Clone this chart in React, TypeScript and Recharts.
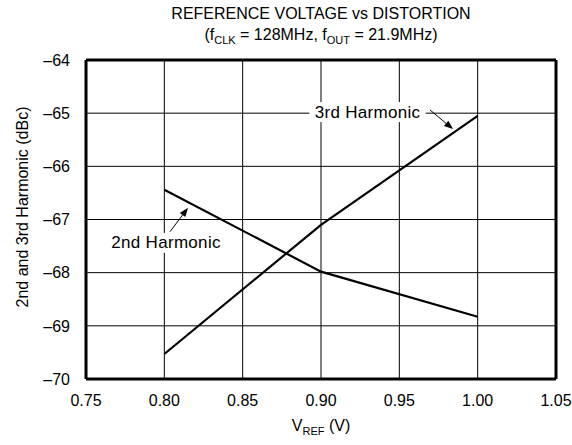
import React from "react";
import {
  LineChart,
  Line,
  XAxis,
  YAxis,
  CartesianGrid,
  ReferenceLine,
  ReferenceDot,
} from "recharts";

// data
const vref = [0.8, 0.9, 1.0];
const second = [-66.44, -67.98, -68.83];
const third = [-69.53, -67.1, -65.05];

const xTicks = [0.75, 0.8, 0.85, 0.9, 0.95, 1.0, 1.05];
const yTicks = [-70, -69, -68, -67, -66, -65, -64];

// callouts: label centre and arrow (from -> to), in data units
const callouts = [
  { text: "3rd Harmonic", x: 0.9297, y: -64.98, from: [0.9696, -64.94], to: [0.9843, -65.3] },
  { text: "2nd Harmonic", x: 0.8011, y: -67.44, from: [0.8036, -67.23], to: [0.8151, -66.78] },
];

const data = vref.map((v, i) => ({ v, second: second[i], third: third[i] }));

const FONT = "'Liberation Sans', Arial, Helvetica, sans-serif";
const fmt = (n: number) => (n < 0 ? "\u2013" + Math.abs(n) : String(n));

function Arrow(props: any) {
  const { x1, y1, x2, y2 } = props;
  const a = Math.atan2(y2 - y1, x2 - x1);
  const len = 9;
  const w = 3.5;
  const bx = x2 - len * Math.cos(a);
  const by = y2 - len * Math.sin(a);
  const px = -Math.sin(a) * w;
  const py = Math.cos(a) * w;
  return (
    <g>
      <line x1={x1} y1={y1} x2={bx} y2={by} stroke="#000" strokeWidth={1} />
      <polygon points={`${x2},${y2} ${bx + px},${by + py} ${bx - px},${by - py}`} fill="#000" />
    </g>
  );
}

function CalloutLabel({ viewBox, text }: any) {
  const cx = viewBox.x + (viewBox.width || 0) / 2;
  const cy = viewBox.y + (viewBox.height || 0) / 2;
  const w = text.length * 9.2;
  return (
    <g>
      <rect x={cx - w / 2 - 3} y={cy - 10} width={w + 6} height={20} fill="#fff" />
      <text
        x={cx}
        y={cy}
        textAnchor="middle"
        dominantBaseline="central"
        fontSize={17}
        letterSpacing={0.3}
        fontFamily={FONT}
        fill="#000"
      >
        {text}
      </text>
    </g>
  );
}

function YLabel() {
  return (
    <text
      x={22}
      y={207}
      transform="rotate(-90, 22, 207)"
      textAnchor="middle"
      dominantBaseline="central"
      fontSize={16}
      fontFamily={FONT}
      fill="#000"
    >
      2nd and 3rd Harmonic (dBc)
    </text>
  );
}

export default function App() {
  return (
    <div style={{ position: "absolute", left: 0, top: 0, width: 572, height: 445, background: "#fff", fontFamily: FONT }}>
      <div style={{ position: "absolute", left: 86, top: 3, width: 470, textAlign: "center", fontSize: 16, lineHeight: "21px", color: "#000" }}>
        <div>REFERENCE VOLTAGE vs DISTORTION</div>
        <div>
          (f<sub style={{ fontSize: 11, verticalAlign: -4 }}>CLK</sub> = 128MHz, f
          <sub style={{ fontSize: 11, verticalAlign: -4 }}>OUT</sub> = 21.9MHz)
        </div>
      </div>
      <div style={{ position: "absolute", left: 86, top: 417, width: 470, textAlign: "center", fontSize: 16, color: "#000" }}>
        V<sub style={{ fontSize: 11, verticalAlign: -4 }}>REF</sub> (V)
      </div>
      <LineChart width={572} height={445} data={data} margin={{ top: 60, right: 16, bottom: 0, left: 0 }}>
        <CartesianGrid stroke="#000" strokeWidth={1} horizontalValues={yTicks} verticalValues={xTicks} />
        <XAxis
          dataKey="v"
          type="number"
          domain={[0.75, 1.05]}
          ticks={xTicks}
          tickFormatter={(n: number) => n.toFixed(2)}
          axisLine={{ stroke: "#000", strokeWidth: 3 }}
          tickLine={false}
          tickSize={8}
          tickMargin={8}
          height={66}
          tick={{ fill: "#000", fontSize: 16, fontFamily: FONT }}
        />
        <YAxis
          type="number"
          domain={[-70, -64]}
          ticks={yTicks}
          tickFormatter={fmt}
          axisLine={{ stroke: "#000", strokeWidth: 3 }}
          tickLine={false}
          tickSize={8}
          tickMargin={8}
          width={86}
          tick={{ fill: "#000", fontSize: 16, fontFamily: FONT }}
          label={{ content: () => <YLabel /> }}
        />
        <ReferenceLine x={1.05} stroke="#000" strokeWidth={3} />
        <ReferenceLine y={-64} stroke="#000" strokeWidth={3} />
        <Line dataKey="second" stroke="#000" strokeWidth={2.2} dot={false} isAnimationActive={false} />
        <Line dataKey="third" stroke="#000" strokeWidth={2.2} dot={false} isAnimationActive={false} />
        {callouts.map((c) => (
          <ReferenceDot
            key={c.text}
            x={c.x}
            y={c.y}
            r={0}
            fill="none"
            stroke="none"
            label={<CalloutLabel text={c.text} />}
          />
        ))}
        {callouts.map((c) => (
          <ReferenceLine
            key={c.text + "-arrow"}
            segment={[
              { x: c.from[0], y: c.from[1] },
              { x: c.to[0], y: c.to[1] },
            ]}
            shape={(p: any) => <Arrow {...p} />}
          />
        ))}
      </LineChart>
    </div>
  );
}
